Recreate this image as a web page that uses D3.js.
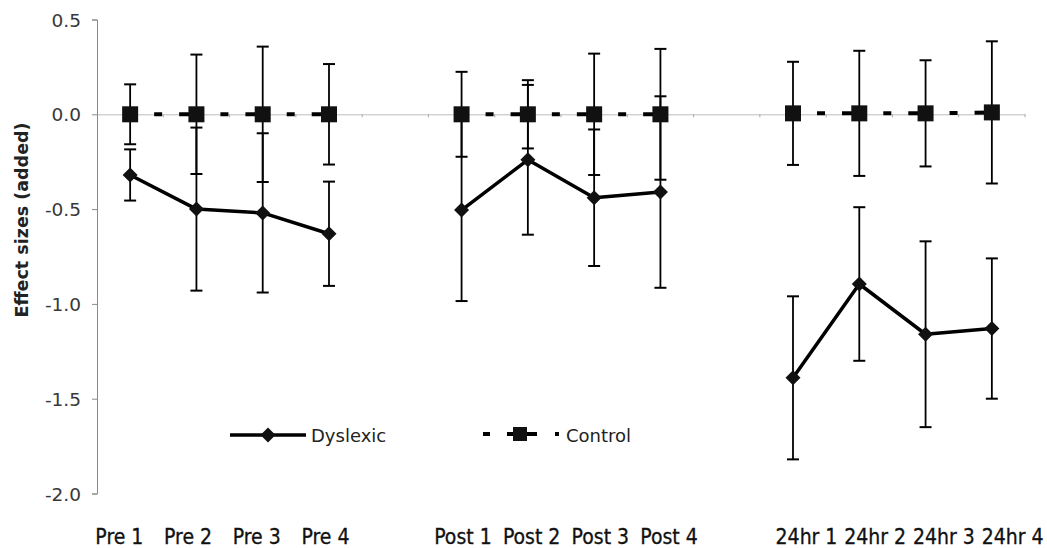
<!DOCTYPE html>
<html>
<head>
<meta charset="utf-8">
<script src="https://cdn.jsdelivr.net/npm/d3@7"></script>
<style>
  html, body { margin: 0; padding: 0; background: #fff; }
  svg { display: block; }
</style>
</head>
<body>
<svg id="chart" width="1047" height="548"></svg>
<script>
// ---- data ----
const slots = ["Pre 1","Pre 2","Pre 3","Pre 4","_gap1","Post 1","Post 2","Post 3","Post 4","_gap2","24hr 1","24hr 2","24hr 3","24hr 4"];
const categories = ["Pre 1","Pre 2","Pre 3","Pre 4","Post 1","Post 2","Post 3","Post 4","24hr 1","24hr 2","24hr 3","24hr 4"];
const dyslexic    = [-0.32, -0.50, -0.52, -0.63, -0.505, -0.24, -0.44, -0.41, -1.39, -0.895, -1.16, -1.13];
const dyslexicErr = [0.135, 0.43, 0.42, 0.275, 0.48, 0.395, 0.36, 0.505, 0.43, 0.405, 0.49, 0.37];
const control     = [0, 0, 0, 0, 0, 0, 0, 0, 0.005, 0.005, 0.005, 0.01];
const controlErr  = [0.158, 0.315, 0.357, 0.265, 0.224, 0.18, 0.32, 0.345, 0.272, 0.33, 0.28, 0.375];
const yTicks = [0.5, 0.0, -0.5, -1.0, -1.5, -2.0];
const groups = [
  {name: "Dyslexic", values: dyslexic, err: dyslexicErr},
  {name: "Control", values: control, err: controlErr}
];

// ---- layout ----
const svg = d3.select("#chart");
const x = d3.scaleBand().domain(slots).range([97, 1025]).paddingInner(0).paddingOuter(0);
const xLab = d3.scaleBand().domain(slots).range([85, 1047]);
const y = d3.scaleLinear().domain([-2, 0.5]).range([493.5, 19.5]);
const cx = c => x(c) + x.bandwidth() / 2;

// zero line (category axis) with small ticks at slot boundaries
const xAxis = svg.append("g").attr("transform", `translate(0,${y(0)})`)
  .call(d3.axisBottom(x).tickSizeInner(0).tickSizeOuter(0).tickFormat(""));
xAxis.select(".domain").attr("stroke", "#bdbdbd").attr("stroke-width", 1);
xAxis.selectAll(".tick").remove();
xAxis.selectAll("line.bnd").data(slots).enter().append("line")
  .attr("x1", d => x(d) + x.bandwidth()).attr("x2", d => x(d) + x.bandwidth())
  .attr("y1", 0).attr("y2", 3).attr("stroke", "#a8a8a8").attr("stroke-width", 1);

// y axis
const fmt = v => d3.format(".1f")(v).replace("\u2212", "-");
const yAxis = svg.append("g").attr("transform", "translate(97,0)")
  .call(d3.axisLeft(y).tickValues(yTicks).tickSize(5).tickFormat(fmt));
yAxis.select(".domain").attr("stroke", "#8a8a8a").attr("stroke-width", 1);
yAxis.selectAll(".tick line").attr("stroke", "#8a8a8a");
yAxis.selectAll(".tick text")
  .attr("x", -16).attr("dy", "0.36em")
  .attr("font-family", "DejaVu Sans, Verdana, sans-serif")
  .attr("font-size", 18.5).attr("fill", "#383838");

// y label
svg.append("text")
  .attr("transform", "translate(28,220) rotate(-90)")
  .attr("text-anchor", "middle")
  .attr("font-family", "DejaVu Sans, Verdana, sans-serif")
  .attr("font-weight", "bold").attr("font-size", 17.5).attr("fill", "#222")
  .text("Effect sizes (added)");

// x labels
svg.append("g").selectAll("text").data(categories).enter().append("text")
  .attr("x", d => xLab(d) + xLab.bandwidth() / 2)
  .attr("y", 544)
  .attr("text-anchor", "middle")
  .attr("font-family", "'Liberation Sans Narrow', 'DejaVu Sans Condensed', 'Liberation Sans', sans-serif")
  .attr("font-size", 21).attr("fill", "#111")
  .attr("stroke", "#111").attr("stroke-width", 0.3)
  .text(d => d);

// error bars
const capW = 12;
groups.forEach(g => {
  const eg = svg.append("g").attr("stroke", "#000").attr("stroke-width", 1.8);
  categories.forEach((c, i) => {
    const xc = cx(c), hi = y(g.values[i] + g.err[i]), lo = y(g.values[i] - g.err[i]);
    eg.append("line").attr("x1", xc).attr("x2", xc).attr("y1", hi).attr("y2", lo);
    eg.append("line").attr("x1", xc - capW/2).attr("x2", xc + capW/2).attr("y1", hi).attr("y2", hi).attr("stroke-width", 2);
    eg.append("line").attr("x1", xc - capW/2).attr("x2", xc + capW/2).attr("y1", lo).attr("y2", lo).attr("stroke-width", 2);
  });
});

// series segments within each group of four
const blocks = [[0,4],[4,8],[8,12]];
const line = d3.line().x(d => cx(d.c)).y(d => y(d.v));

// dyslexic solid line
blocks.forEach(([a,b]) => {
  const pts = categories.slice(a,b).map((c,k) => ({c, v: dyslexic[a+k]}));
  svg.append("path").attr("d", line(pts)).attr("fill", "none")
    .attr("stroke", "#000").attr("stroke-width", 3.5).attr("stroke-linejoin", "round");
});

// control dashed segments
const s = x.step() / 66.3;
const dash = [0, 24, 8, 17, 17.3].map(v => v * s).join(" ");
blocks.forEach(([a,b]) => {
  for (let i = a; i < b - 1; i++) {
    const pts = [{c: categories[i], v: control[i]}, {c: categories[i+1], v: control[i+1]}];
    svg.append("path").attr("d", line(pts)).attr("fill", "none")
      .attr("stroke", "#000").attr("stroke-width", 4).attr("stroke-dasharray", dash);
  }
});

// markers
const diamond = (xc, yc) => `M${xc},${yc-7.5}L${xc+7.5},${yc}L${xc},${yc+7.5}L${xc-7.5},${yc}Z`;
svg.append("g").selectAll("path").data(categories).enter().append("path")
  .attr("d", (c,i) => diamond(cx(c), y(dyslexic[i]))).attr("fill", "#111");
svg.append("g").selectAll("rect").data(categories).enter().append("rect")
  .attr("x", c => cx(c) - 8).attr("y", (c,i) => y(control[i]) - 8)
  .attr("width", 16).attr("height", 16).attr("fill", "#111");

// legend
const lg = svg.append("g");
lg.append("line").attr("x1", 230).attr("x2", 306).attr("y1", 435).attr("y2", 435)
  .attr("stroke", "#000").attr("stroke-width", 3.5);
lg.append("path").attr("d", diamond(268, 435)).attr("fill", "#111");
lg.append("text").attr("x", 311).attr("y", 441.5)
  .attr("font-family", "DejaVu Sans, Verdana, sans-serif").attr("font-size", 18).attr("fill", "#222")
  .text(groups[0].name);
lg.append("line").attr("x1", 483).attr("x2", 559).attr("y1", 434).attr("y2", 434)
  .attr("stroke", "#000").attr("stroke-width", 4).attr("stroke-dasharray", "7 17 30 18 4");
lg.append("rect").attr("x", 513).attr("y", 427).attr("width", 14).attr("height", 14).attr("fill", "#111");
lg.append("text").attr("x", 566).attr("y", 441.5)
  .attr("font-family", "DejaVu Sans, Verdana, sans-serif").attr("font-size", 18).attr("fill", "#222")
  .text(groups[1].name);
</script>
</body>
</html>
